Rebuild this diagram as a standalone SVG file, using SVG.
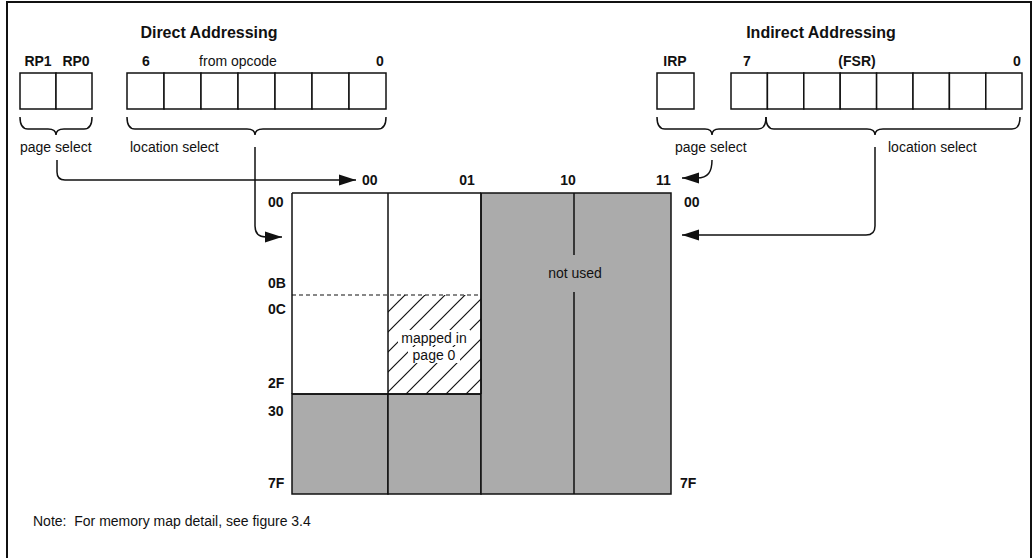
<svg xmlns="http://www.w3.org/2000/svg" width="1033" height="558" viewBox="0 0 1033 558">
<defs>
<style>
text{font-family:"Liberation Sans",Arial,sans-serif;font-size:14px;fill:#111}
.b{font-weight:bold}
.t{font-weight:bold;font-size:16px}
.m{text-anchor:middle}
.box{fill:#fff;stroke:#111;stroke-width:1.5}
.ln{fill:none;stroke:#111;stroke-width:1.5}
.gray{fill:#ababab;stroke:#111;stroke-width:1.5}
.br{fill:none;stroke:#111;stroke-width:1.5}
</style>
<marker id="ah" markerUnits="userSpaceOnUse" markerWidth="18" markerHeight="12" refX="17" refY="6" orient="auto">
<path d="M0,0.5 L17,6 L0,11.5 z" fill="#111"/>
</marker>
<pattern id="hatch" patternUnits="userSpaceOnUse" width="20" height="20">
<path d="M0,20 L20,0 M-5,5 L5,-5 M15,25 L25,15" stroke="#111" stroke-width="1.2"/>
</pattern>
</defs>
<rect x="7" y="2" width="1024" height="562" fill="#fff" stroke="#111" stroke-width="2"/>

<g id="direct">
<text class="t m" x="209" y="38">Direct Addressing</text>
<text class="b m" x="38" y="66">RP1</text>
<text class="b m" x="76" y="66">RP0</text>
<text class="b m" x="146" y="66">6</text>
<text class="m" x="238" y="66">from opcode</text>
<text class="b m" x="380" y="66">0</text>
<g id="rp-bits">
<rect class="box" x="20" y="73" width="36" height="36"/>
<rect class="box" x="56" y="73" width="36" height="36"/>
</g>
<g id="opcode-bits">
<rect class="box" x="127" y="73" width="37" height="36"/>
<rect class="box" x="164" y="73" width="37" height="36"/>
<rect class="box" x="201" y="73" width="37" height="36"/>
<rect class="box" x="238" y="73" width="37" height="36"/>
<rect class="box" x="275" y="73" width="37" height="36"/>
<rect class="box" x="312" y="73" width="37" height="36"/>
<rect class="box" x="349" y="73" width="37" height="36"/>
</g>
<path class="br" d="M20,117 Q20,129 28,129 L48,129 Q56,129 56,135 Q56,129 64,129 L84,129 Q92,129 92,117"/>
<path class="br" d="M127,117 Q127,129 135,129 L247,129 Q255,129 255,135 Q255,129 263,129 L378,129 Q386,129 386,117"/>
<text x="20" y="152">page select</text>
<text x="130" y="152">location select</text>
</g>

<g id="indirect">
<text class="t m" x="821" y="38">Indirect Addressing</text>
<text class="b m" x="675" y="66">IRP</text>
<text class="b m" x="747" y="66">7</text>
<text class="b m" x="857" y="66">(FSR)</text>
<text class="b m" x="1017" y="66">0</text>
<g id="irp-bit">
<rect class="box" x="657" y="73" width="37" height="36"/>
</g>
<g id="fsr-bits">
<rect class="box" x="731" y="73" width="36.4" height="36"/>
<rect class="box" x="767.4" y="73" width="36.4" height="36"/>
<rect class="box" x="803.8" y="73" width="36.4" height="36"/>
<rect class="box" x="840.2" y="73" width="36.4" height="36"/>
<rect class="box" x="876.6" y="73" width="36.4" height="36"/>
<rect class="box" x="913" y="73" width="36.4" height="36"/>
<rect class="box" x="949.4" y="73" width="36.4" height="36"/>
<rect class="box" x="985.8" y="73" width="36.2" height="36"/>
</g>
<path class="br" d="M657,117 Q657,129 665,129 L705,129 Q712,129 712,135 Q712,129 719,129 L758,129 Q766,129 766,117"/>
<path class="br" d="M766,117 Q766,129 774,129 L867,129 Q875,129 875,135 Q875,129 883,129 L1012,129 Q1020,129 1020,117"/>
<text x="675" y="152">page select</text>
<text x="888" y="152">location select</text>
</g>

<g id="memory-map">
<rect x="292" y="193" width="96" height="201" fill="#fff"/>
<rect x="388" y="193" width="93" height="102" fill="#fff"/>
<rect x="388" y="295" width="93" height="99" fill="#fff"/>
<rect x="388" y="295" width="93" height="99" fill="url(#hatch)"/>
<rect class="gray" x="292" y="394" width="96" height="100"/>
<rect class="gray" x="388" y="394" width="93" height="100"/>
<rect class="gray" x="481" y="193" width="190" height="301"/>
<path class="ln" d="M292,193 L481,193 M292,193 L292,394 M388,193 L388,394 M481,193 L481,394 M292,394 L481,394"/>
<path class="ln" d="M574,193 L574,255 M574,292 L574,494"/>
<path fill="none" stroke="#111" stroke-width="1.2" stroke-dasharray="4,3" d="M292,295 L481,295"/>
<rect x="398" y="330" width="72" height="15" fill="#fff"/>
<rect x="408" y="347" width="52" height="16" fill="#fff"/>
<text class="m" x="434" y="343">mapped in</text>
<text class="m" x="434" y="360">page 0</text>
<text class="m" x="575" y="278">not used</text>
<text class="b" x="362" y="185">00</text>
<text class="b m" x="467" y="185">01</text>
<text class="b m" x="568" y="185">10</text>
<text class="b" x="656" y="185">11</text>
<text class="b" x="268" y="207">00</text>
<text class="b" x="268" y="288">0B</text>
<text class="b" x="268" y="314">0C</text>
<text class="b" x="268" y="388">2F</text>
<text class="b" x="268" y="416">30</text>
<text class="b" x="268" y="488">7F</text>
<text class="b" x="684" y="207">00</text>
<text class="b" x="680" y="488">7F</text>
</g>

<g id="connectors">
<path class="ln" marker-end="url(#ah)" d="M57,160 L57,172 Q57,180 65,180 L356,180"/>
<path class="ln" marker-end="url(#ah)" d="M255,147 L255,226 Q255,237 266,237 L282,237"/>
<path class="ln" marker-end="url(#ah)" d="M712,160 C712,172 708,178 697,178 L682,178"/>
<path class="ln" marker-end="url(#ah)" d="M875,147 L875,226 Q875,235 866,235 L682,235"/>
</g>

<text x="33" y="526" font-size="14.5" xml:space="preserve">Note:  For memory map detail, see figure 3.4</text>
</svg>
